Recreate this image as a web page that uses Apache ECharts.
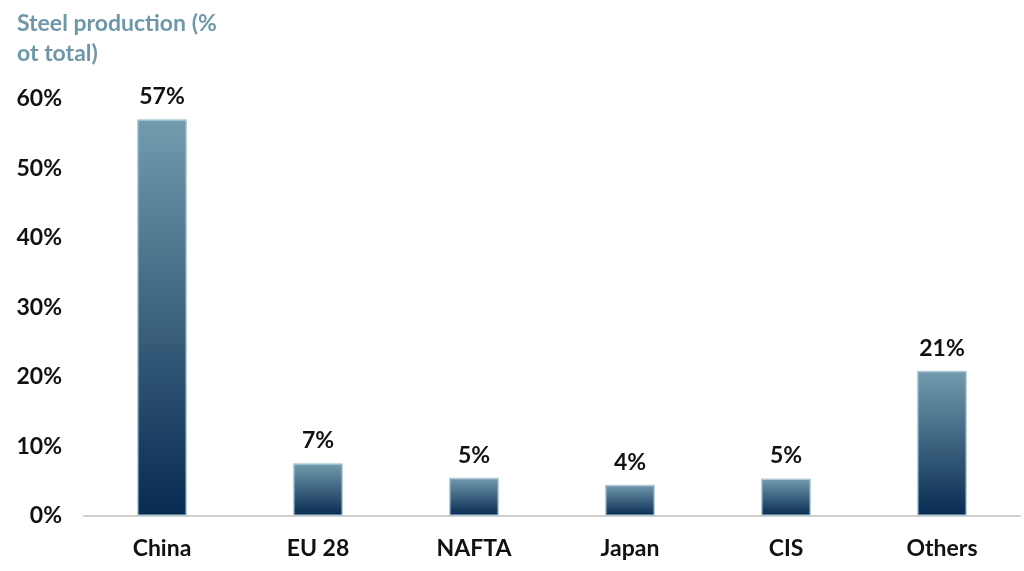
<!DOCTYPE html>
<html>
<head>
<meta charset="utf-8">
<script src="https://cdn.jsdelivr.net/npm/echarts@6/dist/echarts.min.js"></script>
<style>
html,body{margin:0;padding:0;background:#fff;}
#chart{width:1024px;height:571px;}
</style>
</head>
<body>
<div id="chart"></div>
<script>
var categories = ['China', 'EU 28', 'NAFTA', 'Japan', 'CIS', 'Others'];
var shareValues = [57.1, 7.6, 5.5, 4.5, 5.4, 20.9];
var shareLabels = ['57%', '7%', '5%', '4%', '5%', '21%'];
var yTicks = [0, 10, 20, 30, 40, 50, 60];
var titleText = 'Steel production (%\not total)';

var FONT = 'Lato, "Open Sans", sans-serif';
var chart = echarts.init(document.getElementById('chart'));
chart.setOption({
  animation: false,
  backgroundColor: '#ffffff',
  title: {
    text: titleText,
    left: 12,
    top: 4,
    textStyle: { color: '#6f97a8', fontFamily: FONT, fontWeight: 'bold', fontSize: 23, lineHeight: 30 }
  },
  grid: { left: 84, right: 4, top: 99, bottom: 55, containLabel: false },
  xAxis: {
    type: 'category',
    data: categories,
    axisLine: { lineStyle: { color: '#d0d0d0', width: 2 } },
    axisTick: { show: false },
    axisLabel: { color: '#111', fontFamily: FONT, fontWeight: 'bold', fontSize: 23, margin: 21 }
  },
  yAxis: {
    type: 'value',
    min: yTicks[0],
    max: yTicks[yTicks.length - 1],
    interval: 10,
    axisLine: { show: false },
    axisTick: { show: false },
    splitLine: { show: false },
    axisLabel: { color: '#111', fontFamily: FONT, fontWeight: 'bold', fontSize: 23, margin: 22,
      formatter: function (v) { return v + '%'; } }
  },
  series: [{
    type: 'bar',
    data: shareValues,
    barWidth: 50,
    itemStyle: {
      color: new echarts.graphic.LinearGradient(0, 0, 0, 1, [
        { offset: 0, color: '#729cae' },
        { offset: 1, color: '#072a51' }
      ]),
      borderColor: '#b3cbd6',
      borderWidth: 1.5
    },
    label: {
      show: true,
      position: 'top',
      distance: 11,
      color: '#111',
      fontFamily: FONT,
      fontWeight: 'bold',
      fontSize: 23,
      formatter: function (p) { return shareLabels[p.dataIndex]; }
    }
  }]
});
</script>
</body>
</html>
